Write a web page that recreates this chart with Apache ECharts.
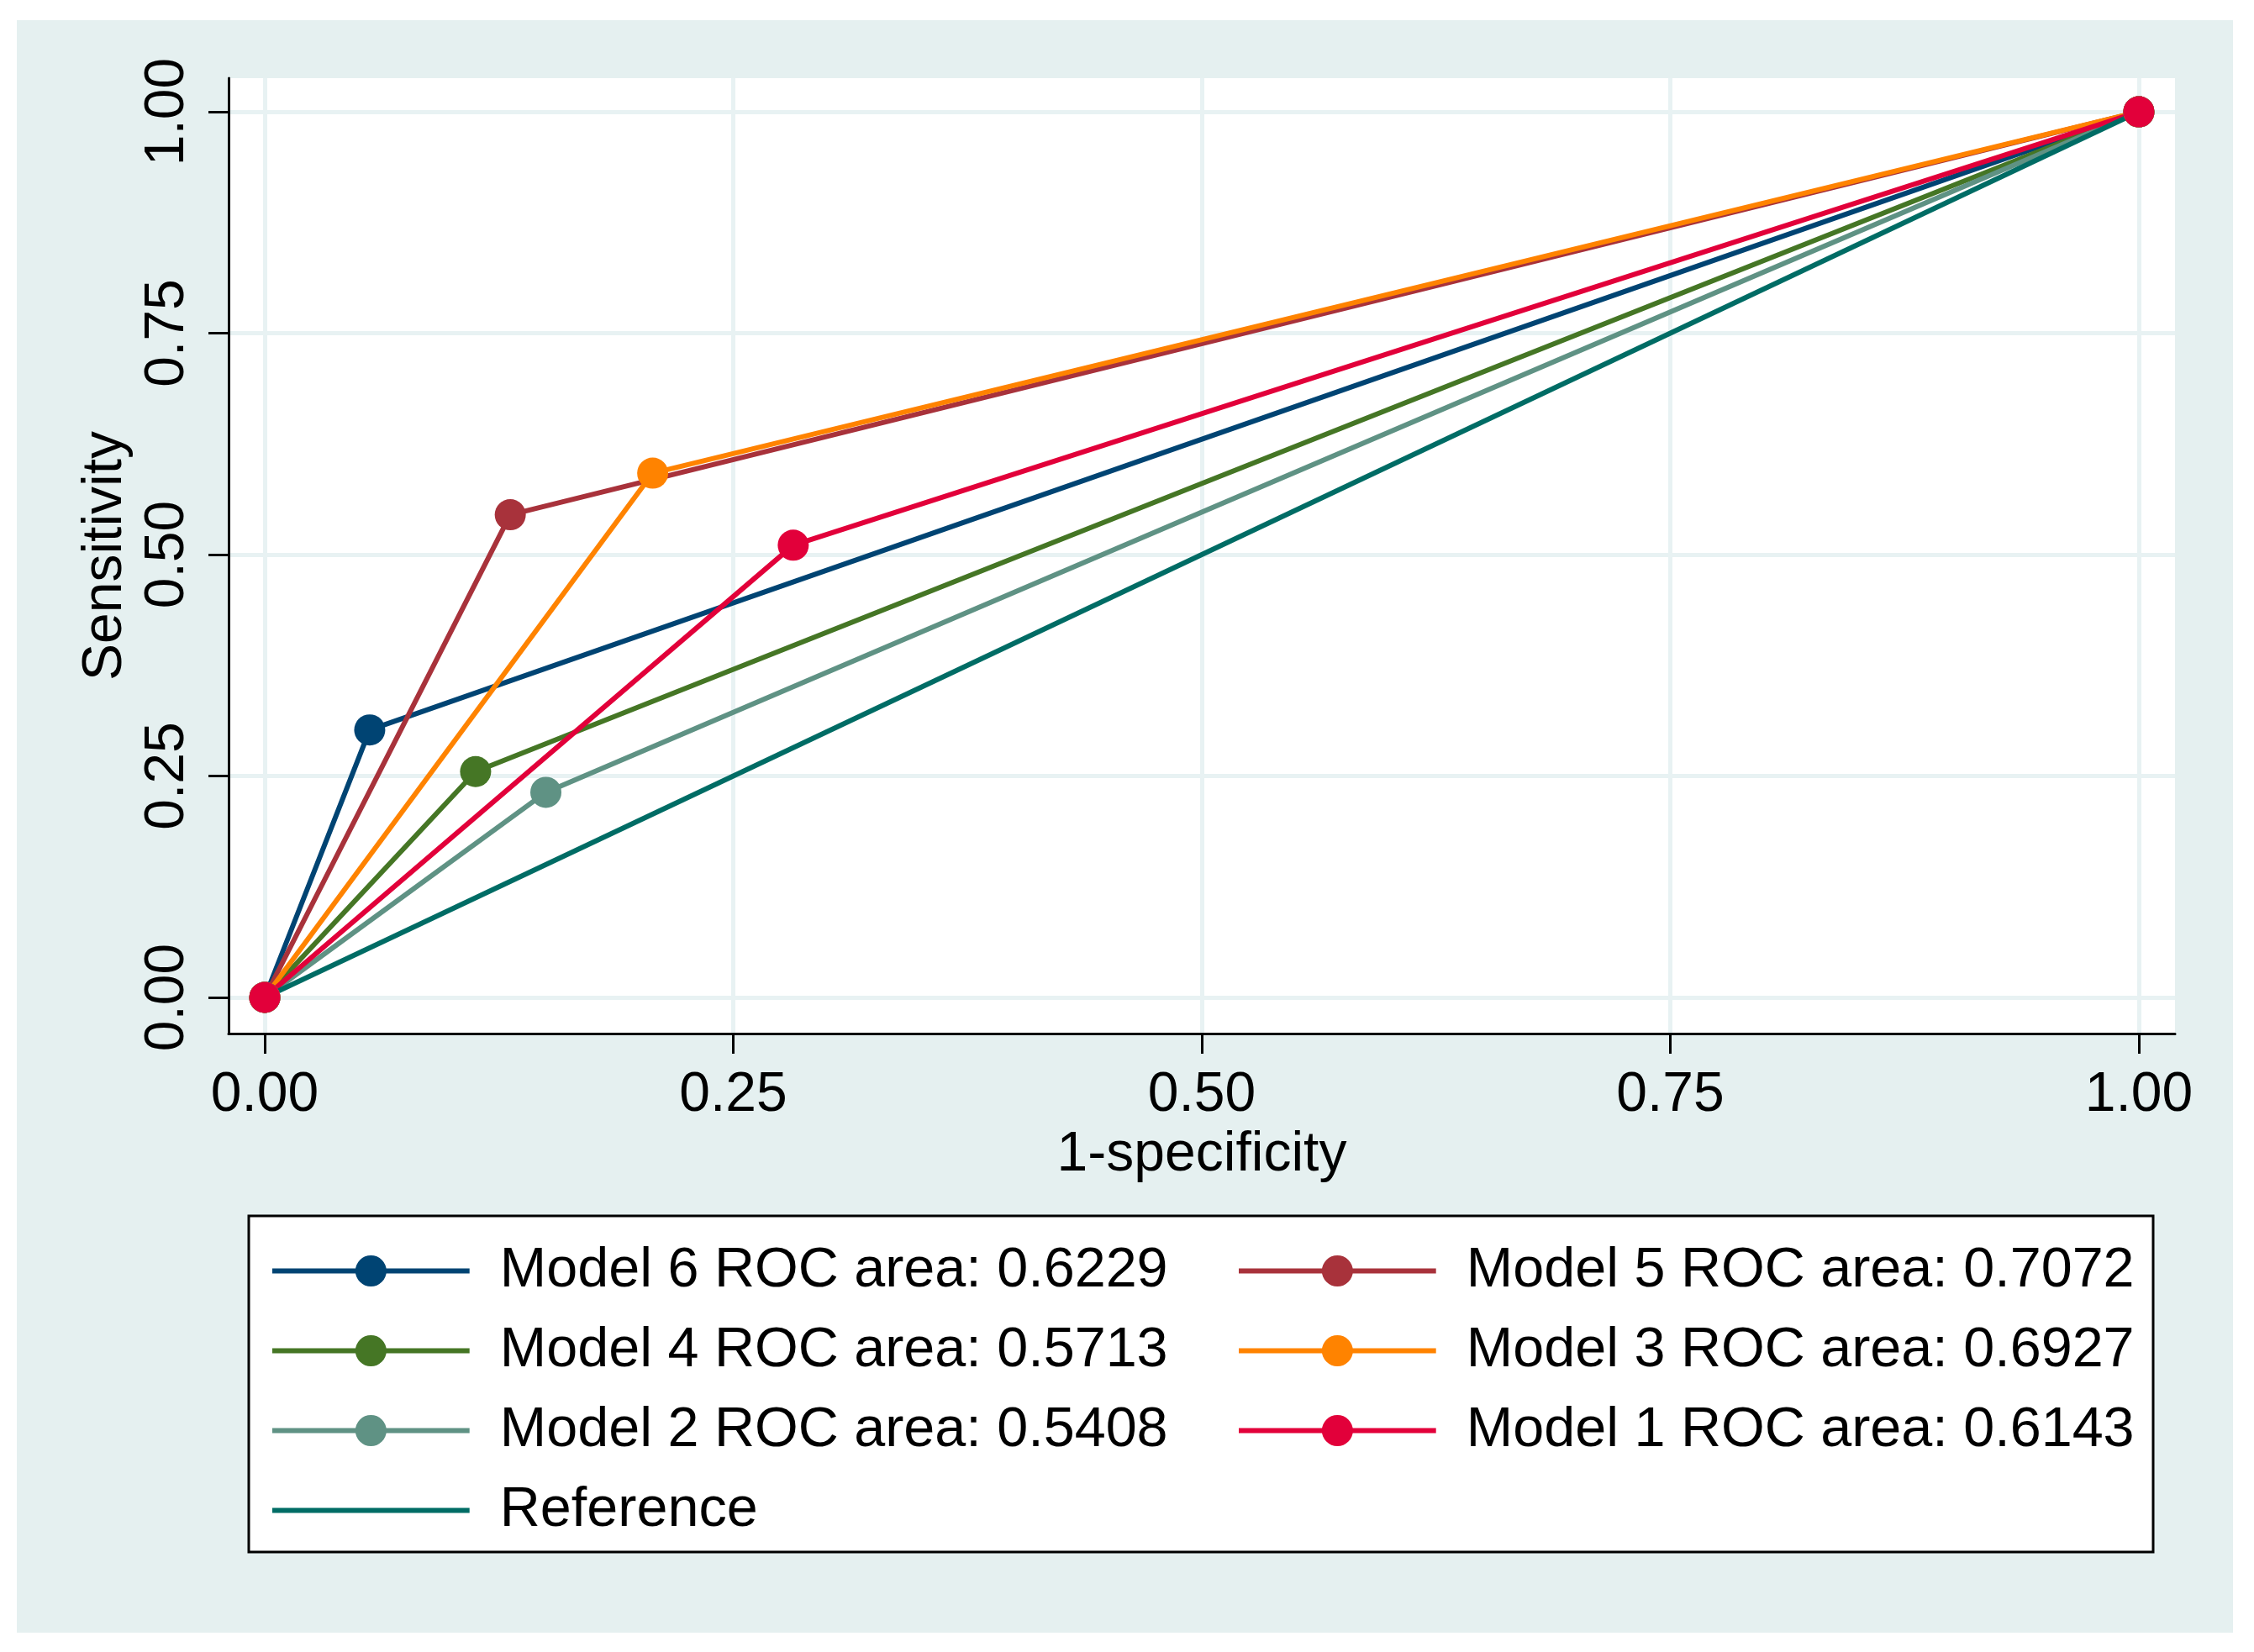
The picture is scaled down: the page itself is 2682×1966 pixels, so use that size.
<!DOCTYPE html>
<html>
<head>
<meta charset="utf-8">
<script src="https://cdn.jsdelivr.net/npm/echarts@6/dist/echarts.min.js"></script>
<style>
  html, body { margin: 0; padding: 0; background: #ffffff; }
  #chart { width: 2682px; height: 1966px; }
</style>
</head>
<body>
<div id="chart"></div>
<script>
// cut-point of each model (1-specificity, sensitivity)
const model6 = [[0, 0], [0.056, 0.302], [1, 1]];
const model5 = [[0, 0], [0.131, 0.545], [1, 1]];
const model4 = [[0, 0], [0.1125, 0.255], [1, 1]];
const model3 = [[0, 0], [0.207, 0.592], [1, 1]];
const model2 = [[0, 0], [0.150, 0.2316], [1, 1]];
const model1 = [[0, 0], [0.282, 0.5106], [1, 1]];
const reference = [[0, 0], [1, 1]];

const seriesNames = [
  "Model 6 ROC area: 0.6229",
  "Model 5 ROC area: 0.7072",
  "Model 4 ROC area: 0.5713",
  "Model 3 ROC area: 0.6927",
  "Model 2 ROC area: 0.5408",
  "Model 1 ROC area: 0.6143",
  "Reference"
];
const tickValues = [0, 0.25, 0.5, 0.75, 1];

const colors = ["#004473", "#a8323b", "#457625", "#ff8300", "#5f9284", "#e2003a", "#006c65"];
const font = "'Liberation Sans', Arial, Helvetica, sans-serif";

const chart = echarts.init(document.getElementById("chart"));

const allData = [model6, model5, model4, model3, model2, model1, reference];

const series = allData.map((d, i) => {
  const isRef = i === 6;
  return {
    name: seriesNames[i],
    type: "line",
    data: d,
    symbol: isRef ? "none" : "circle",
    symbolSize: 37,
    showSymbol: !isRef,
    lineStyle: { color: colors[i], width: 6 },
    itemStyle: { color: colors[i] },
    emphasis: { disabled: true },
    animation: false
  };
});

// legend icons: a line, with or without a dot in the middle (box 1000 x 196)
const lineIcon = "path://M0,0 M0,196 M0,85 L1000,85 L1000,111 L0,111 Z";
const dotLineIcon = lineIcon + " M421,98 a79,79 0 1,1 158,0 a79,79 0 1,1 -158,0 Z";

const legendCommon = {
  orient: "vertical",
  padding: 0,
  itemWidth: 235,
  itemHeight: 46,
  itemGap: 28,
  textStyle: {
    fontFamily: font,
    fontSize: 66.5,
    color: "#000",
    padding: [0, 0, 0, 31]
  },
  selectedMode: false
};

const option = {
  backgroundColor: "#ffffff",
  color: colors,
  graphic: [
    {
      type: "rect",
      z: -10,
      shape: { x: 20, y: 24, width: 2637, height: 1919 },
      style: { fill: "#e5f0f0" }
    },
    {
      type: "rect",
      z: -5,
      shape: { x: 296, y: 1447, width: 2266, height: 400 },
      style: { fill: "#ffffff", stroke: "#000000", lineWidth: 3 }
    }
  ],
  grid: {
    left: 272,
    top: 93,
    right: 94,
    bottom: 736,
    show: true,
    backgroundColor: "#ffffff",
    borderWidth: 0
  },
  xAxis: {
    type: "value",
    min: -0.0193,
    max: 1.0193,
    name: "1-specificity",
    nameLocation: "middle",
    nameGap: 102,
    nameTextStyle: { fontFamily: font, fontSize: 66, color: "#000" },
    axisLine: { show: true, onZero: false, lineStyle: { color: "#000", width: 3 } },
    axisTick: { show: true, length: 24, lineStyle: { color: "#000", width: 3 }, customValues: tickValues },
    axisLabel: {
      customValues: tickValues,
      fontFamily: font,
      fontSize: 66,
      color: "#000",
      margin: 41,
      formatter: (v) => v.toFixed(2)
    },
    splitLine: { show: true, lineStyle: { color: "#e8f2f3", width: 5 } }
  },
  yAxis: {
    type: "value",
    min: -0.0408,
    max: 1.038,
    name: "Sensitivity",
    nameLocation: "middle",
    nameGap: 97,
    nameTextStyle: { fontFamily: font, fontSize: 66, color: "#000" },
    axisLine: { show: true, onZero: false, lineStyle: { color: "#000", width: 3 } },
    axisTick: { show: true, length: 24, lineStyle: { color: "#000", width: 3 }, customValues: tickValues },
    axisLabel: {
      customValues: tickValues,
      rotate: 90,
      fontFamily: font,
      fontSize: 66,
      color: "#000",
      margin: 39,
      formatter: (v) => v.toFixed(2)
    },
    splitLine: { show: true, lineStyle: { color: "#e8f2f3", width: 5 } }
  },
  legend: [
    Object.assign({}, legendCommon, {
      left: 324,
      top: 1479,
      data: [
        { name: seriesNames[0], icon: dotLineIcon },
        { name: seriesNames[2], icon: dotLineIcon },
        { name: seriesNames[4], icon: dotLineIcon },
        { name: seriesNames[6], icon: lineIcon }
      ]
    }),
    Object.assign({}, legendCommon, {
      left: 1474,
      top: 1479,
      data: [
        { name: seriesNames[1], icon: dotLineIcon },
        { name: seriesNames[3], icon: dotLineIcon },
        { name: seriesNames[5], icon: dotLineIcon }
      ]
    })
  ],
  series: series
};

chart.setOption(option);
</script>
</body>
</html>
